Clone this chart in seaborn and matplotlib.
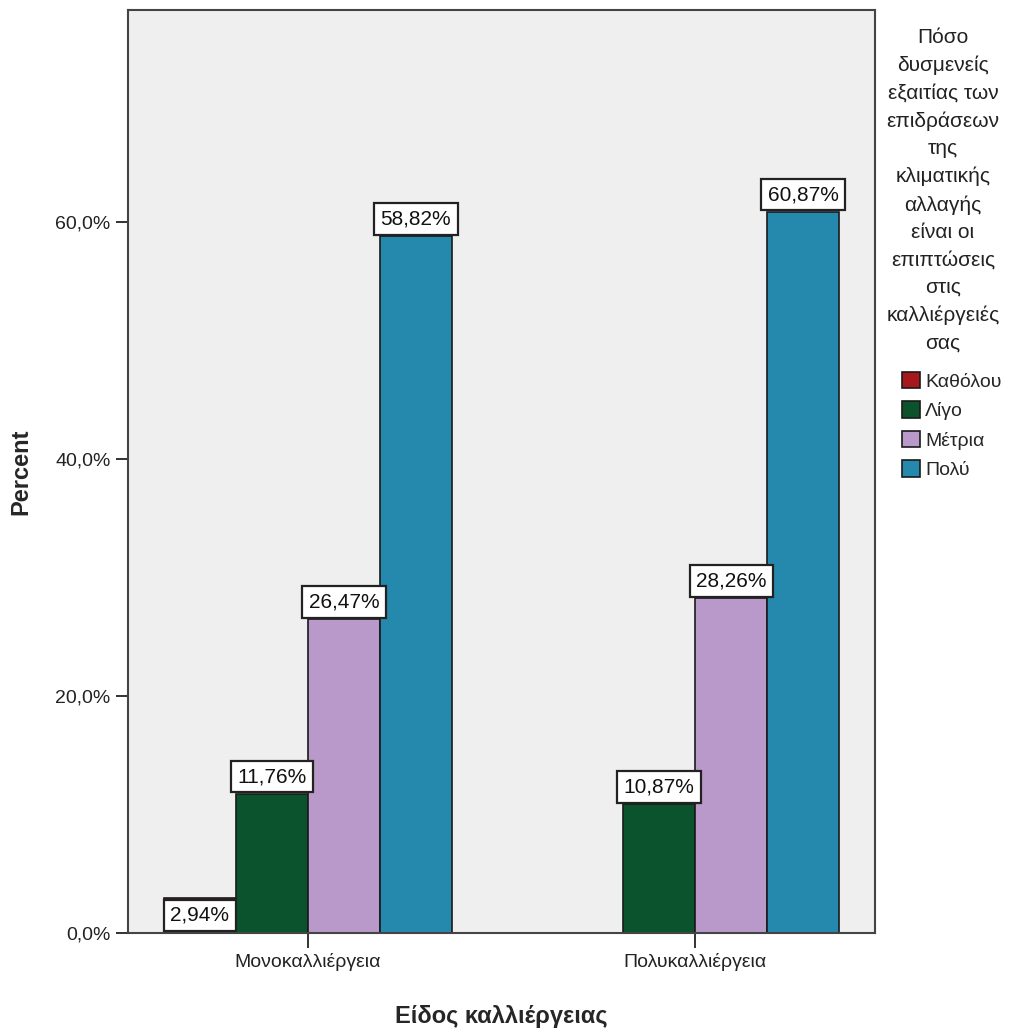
import matplotlib.pyplot as plt
import pandas as pd
import seaborn as sns

# data
crops = ["Μονοκαλλιέργεια", "Πολυκαλλιέργεια"]
levels = ["Καθόλου", "Λίγο", "Μέτρια", "Πολύ"]
mono_pct = [2.94, 11.76, 26.47, 58.82]
poly_pct = [0.0, 10.87, 28.26, 60.87]
colors = ["#a8171c", "#0b532d", "#b899c9", "#2589ad"]
yticks = [0, 20, 40, 60]
ytick_labels = ["0,0%", "20,0%", "40,0%", "60,0%"]
legend_title = ("Πόσο\nδυσμενείς\nεξαιτίας των\nεπιδράσεων\nτης\nκλιματικής\n"
                "αλλαγής\nείναι οι\nεπιπτώσεις\nστις\nκαλλιέργειές\nσας")

df = pd.DataFrame({
    "crop": [c for c in crops for _ in levels],
    "level": levels * 2,
    "pct": mono_pct + poly_pct,
})

sns.set_style("white")
plt.rcParams["font.family"] = ["Liberation Sans", "DejaVu Sans"]

fig = plt.figure(figsize=(10.31, 10.32), dpi=100)
ax = fig.add_axes([128 / 1031, 1 - 933 / 1032, 747 / 1031, 923 / 1032])
ax.set_facecolor("#efefef")

sns.barplot(data=df, x="crop", y="pct", hue="level", hue_order=levels,
            palette=colors, saturation=1, width=0.744, errorbar=None,
            edgecolor="#1a1a1a", linewidth=1.2, ax=ax)

# value labels in white boxes
pad = 0.3
fs = 15
for container in ax.containers:
    for bar in container:
        val = bar.get_height()
        if val == 0:
            continue
        x = bar.get_x() + bar.get_width() / 2
        txt = f"{val:.2f}%".replace(".", ",")
        if val < 5:
            off, va = -pad * fs - 1, "top"
        else:
            off, va = pad * fs + 1, "bottom"
        ax.annotate(txt, (x, val), xytext=(0, off), textcoords="offset points",
                    ha="center", va=va, fontsize=fs, color="#111111",
                    bbox=dict(boxstyle=f"square,pad={pad}", fc="white",
                              ec="#222222", lw=1.6))

ax.set_xlim(-0.465, 1.465)
ax.set_ylim(0, 77.9)
ax.set_yticks(yticks)
ax.set_yticklabels(ytick_labels)
ax.tick_params(axis="y", length=9, width=1.3, labelsize=14, colors="#222222",
               left=True)
ax.tick_params(axis="x", length=11, width=1.3, labelsize=14, colors="#222222",
               bottom=True)
for s in ax.spines.values():
    s.set_color("#444444")
    s.set_linewidth(1.5)
    s.set_visible(True)

ax.set_ylabel("Percent", fontsize=17, fontweight="bold")
ax.yaxis.set_label_coords(-0.1285, 0.5)
ax.set_xlabel("Είδος καλλιέργειας", fontsize=17, fontweight="bold")
ax.xaxis.set_label_coords(0.5, -0.078)

handles, labels = ax.get_legend_handles_labels()
ax.get_legend().remove()
fig.legend(handles, labels, loc="upper left",
           bbox_to_anchor=(902 / 1031, 1 - 372 / 1032), frameon=False,
           fontsize=14, handlelength=0.9, handleheight=0.9,
           handletextpad=0.3, labelspacing=0.55, borderaxespad=0, borderpad=0)
fig.text(943 / 1031, 1 - 28 / 1032, legend_title, ha="center", va="top",
         fontsize=15, linespacing=1.56, color="#222222")

fig.savefig("out.png", dpi=100)
